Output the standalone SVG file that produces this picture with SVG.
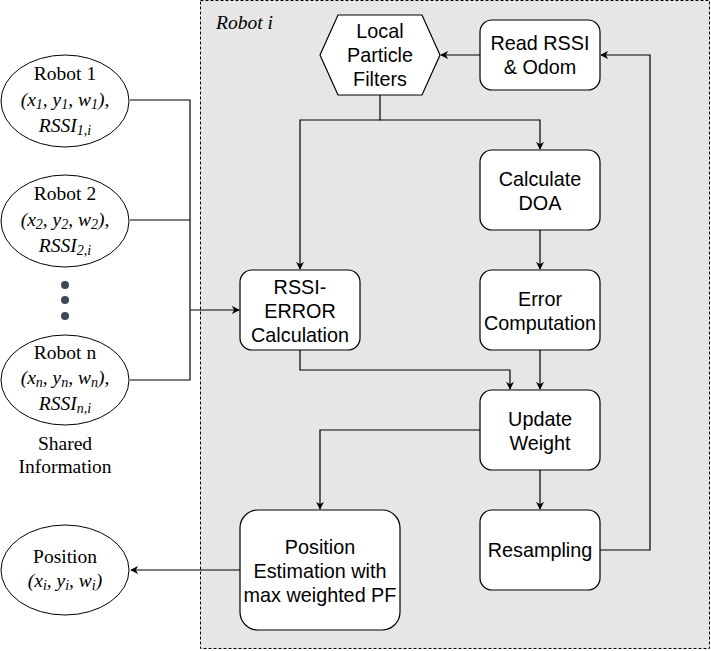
<svg xmlns="http://www.w3.org/2000/svg" width="711" height="651" viewBox="0 0 711 651">
<defs>
<style>
.box{fill:#fff;stroke:#000;stroke-width:1.2}
.ell{fill:#fff;stroke:#000;stroke-width:1}
.t{font-family:"Liberation Sans",Arial,sans-serif;font-size:19.8px;text-anchor:middle;fill:#000}
.s{font-family:"Liberation Serif","Times New Roman",serif;font-size:19.5px;text-anchor:middle;fill:#000}
.i{font-style:italic}
.c{fill:none;stroke:#000;stroke-width:1.2}
.sub{font-size:14px}
</style>
<marker id="ah" viewBox="0 0 10 10" refX="9" refY="5" markerWidth="8" markerHeight="8" markerUnits="userSpaceOnUse" orient="auto">
<path d="M0,0 L10,5 L0,10 L3,5 Z" fill="#000"/>
</marker>
</defs>
<rect width="711" height="651" fill="#fff"/>
<g id="container">
<rect x="200.5" y="0.5" width="509" height="648" fill="#e6e6e6" stroke="#000" stroke-width="1" stroke-dasharray="3,2"/>
<text x="216" y="29" class="s i" style="text-anchor:start">Robot i</text>
</g>
<g id="connectors">
<path class="c" d="M480,55 H441" marker-end="url(#ah)"/>
<path class="c" d="M600,550 H650 V55 H601" marker-end="url(#ah)"/>
<path class="c" d="M380,95 V120 H540 V149" marker-end="url(#ah)"/>
<path class="c" d="M380,120 H300 V269" marker-end="url(#ah)"/>
<path class="c" d="M540,230 V269" marker-end="url(#ah)"/>
<path class="c" d="M540,350 V389" marker-end="url(#ah)"/>
<path class="c" d="M300,350 V370 H510 V389" marker-end="url(#ah)"/>
<path class="c" d="M480,430 H320 V509" marker-end="url(#ah)"/>
<path class="c" d="M540,470 V509" marker-end="url(#ah)"/>
<path class="c" d="M240,570 H131" marker-end="url(#ah)"/>
<path class="c" d="M130,100 H190 V380 H130 M130,220 H190"/>
<path class="c" d="M190,310 H239" marker-end="url(#ah)"/>
</g>
<g id="lpf">
<polygon class="box" points="320,55 338,15 422,15 440,55 422,95 338,95"/>
<text class="t" x="380" y="38">Local</text>
<text class="t" x="380" y="62">Particle</text>
<text class="t" x="380" y="86">Filters</text>
</g>
<g id="read">
<rect class="box" x="480" y="20" width="120" height="70" rx="12"/>
<text class="t" x="540" y="50">Read RSSI</text>
<text class="t" x="540" y="74">&amp; Odom</text>
</g>
<g id="doa">
<rect class="box" x="480" y="150" width="120" height="80" rx="12"/>
<text class="t" x="540" y="186">Calculate</text>
<text class="t" x="540" y="210">DOA</text>
</g>
<g id="rssierr">
<rect class="box" x="240" y="270" width="120" height="80" rx="12"/>
<text class="t" x="300" y="294">RSSI-</text>
<text class="t" x="300" y="318">ERROR</text>
<text class="t" x="300" y="342">Calculation</text>
</g>
<g id="errcomp">
<rect class="box" x="480" y="270" width="120" height="80" rx="12"/>
<text class="t" x="540" y="306">Error</text>
<text class="t" x="540" y="330">Computation</text>
</g>
<g id="update">
<rect class="box" x="480" y="390" width="120" height="80" rx="12"/>
<text class="t" x="540" y="426">Update</text>
<text class="t" x="540" y="450">Weight</text>
</g>
<g id="resample">
<rect class="box" x="480" y="510" width="120" height="80" rx="12"/>
<text class="t" x="540" y="557">Resampling</text>
</g>
<g id="posest">
<rect class="box" x="240" y="510" width="160" height="120" rx="18"/>
<text class="t" x="320" y="554">Position</text>
<text class="t" x="320" y="578">Estimation with</text>
<text class="t" x="320" y="602">max weighted PF</text>
</g>
<g id="position">
<ellipse class="ell" cx="65" cy="570" rx="64" ry="45"/>
<text class="s" x="65" y="563">Position</text>
<text class="s i" x="65" y="587">(x<tspan class="sub" dy="3">i</tspan><tspan dy="-3">, y</tspan><tspan class="sub" dy="3">i</tspan><tspan dy="-3">, w</tspan><tspan class="sub" dy="3">i</tspan><tspan dy="-3">)</tspan></text>
</g>
<g id="robot1">
<ellipse class="ell" cx="65" cy="101" rx="64" ry="46"/>
<text class="s" x="65" y="80">Robot 1</text>
<text class="s i" x="65" y="106">(x<tspan class="sub" dy="3">1</tspan><tspan dy="-3">, y</tspan><tspan class="sub" dy="3">1</tspan><tspan dy="-3">, w</tspan><tspan class="sub" dy="3">1</tspan><tspan dy="-3">),</tspan></text>
<text class="s i" x="65" y="132">RSSI<tspan class="sub" dy="3">1,i</tspan></text>
</g>
<g id="robot2">
<ellipse class="ell" cx="65" cy="221" rx="64" ry="46"/>
<text class="s" x="65" y="200">Robot 2</text>
<text class="s i" x="65" y="226">(x<tspan class="sub" dy="3">2</tspan><tspan dy="-3">, y</tspan><tspan class="sub" dy="3">2</tspan><tspan dy="-3">, w</tspan><tspan class="sub" dy="3">2</tspan><tspan dy="-3">),</tspan></text>
<text class="s i" x="65" y="252">RSSI<tspan class="sub" dy="3">2,i</tspan></text>
</g>
<g id="dots" fill="#3d4756">
<circle cx="65" cy="285" r="4"/>
<circle cx="65" cy="300" r="4"/>
<circle cx="65" cy="316" r="4"/>
</g>
<g id="robotn">
<ellipse class="ell" cx="65" cy="380" rx="64" ry="45"/>
<text class="s" x="65" y="359">Robot n</text>
<text class="s i" x="65" y="384">(x<tspan class="sub" dy="3">n</tspan><tspan dy="-3">, y</tspan><tspan class="sub" dy="3">n</tspan><tspan dy="-3">, w</tspan><tspan class="sub" dy="3">n</tspan><tspan dy="-3">),</tspan></text>
<text class="s i" x="65" y="410">RSSI<tspan class="sub" dy="3">n,i</tspan></text>
</g>
<g id="shared">
<text class="s" x="65" y="450">Shared</text>
<text class="s" x="65" y="473">Information</text>
</g>
</svg>
